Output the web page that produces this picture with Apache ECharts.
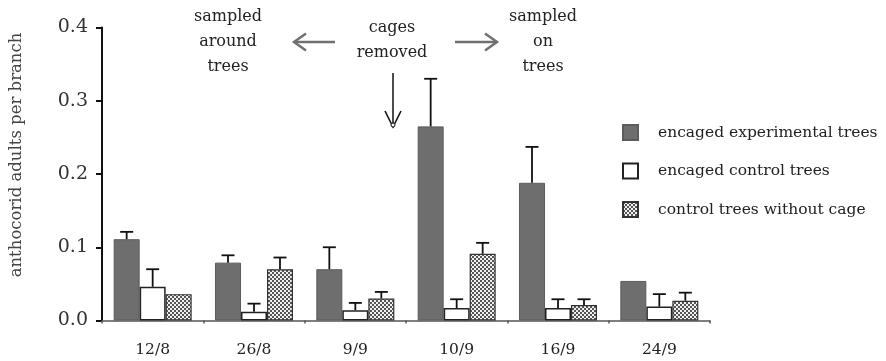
<!DOCTYPE html>
<html>
<head>
<meta charset="utf-8">
<script src="https://cdn.jsdelivr.net/npm/echarts@6/dist/echarts.min.js"></script>
<style>html,body{margin:0;padding:0;background:#fff}#c{width:886px;height:361px}</style>
</head>
<body>
<div id="c"></div>
<script>
// ---- data ----
const categories = ['12/8', '26/8', '9/9', '10/9', '16/9', '24/9'];
const seriesNames = ['encaged experimental trees', 'encaged control trees', 'control trees without cage'];
const expVals    = [0.111, 0.079, 0.070, 0.265, 0.188, 0.054];
const expErrTop  = [0.121, 0.089, 0.100, 0.330, 0.237, null];
const ctrlVals   = [0.046, 0.012, 0.014, 0.017, 0.017, 0.019];
const ctrlErrTop = [0.070, 0.023, 0.024, 0.029, 0.029, 0.036];
const nocVals    = [0.036, 0.070, 0.030, 0.091, 0.021, 0.027];
const nocErrTop  = [null, 0.086, 0.039, 0.106, 0.029, 0.038];
const yTicks = [0, 0.1, 0.2, 0.3, 0.4];

// ---- styles ----
const FONT = '"DejaVu Serif", "Liberation Serif", serif';
const BAR_W = 26;

function makePattern() {
  const cv = document.createElement('canvas');
  cv.width = 4; cv.height = 4;
  const g = cv.getContext('2d');
  g.fillStyle = '#f0f0f0'; g.fillRect(0, 0, 4, 4);
  g.fillStyle = '#555555';
  g.fillRect(0, 0, 2, 2); g.fillRect(2, 2, 2, 2);
  return cv;
}
const stipple = { image: makePattern(), repeat: 'repeat' };

function errData(vals, tops, slot) {
  const out = [];
  vals.forEach((v, i) => { if (tops[i] != null) out.push([i, v, tops[i], slot]); });
  return out;
}

function renderErr(params, api) {
  const i = api.value(0);
  const base = api.coord([i, api.value(1)]);
  const top = api.coord([i, api.value(2)]);
  const x = base[0] + api.value(3) * BAR_W;
  const st = { stroke: '#111', lineWidth: 1.8 };
  return {
    type: 'group',
    children: [
      { type: 'line', shape: { x1: x, y1: base[1], x2: x, y2: top[1] }, style: st },
      { type: 'line', shape: { x1: x - 6.5, y1: top[1], x2: x + 6.5, y2: top[1] }, style: st }
    ]
  };
}

const chart = echarts.init(document.getElementById('c'), null, { renderer: 'canvas' });

const lineSt = { stroke: '#707070', lineWidth: 2.5, fill: null };
chart.setOption({
  animation: false,
  backgroundColor: '#fff',
  grid: { left: 102, right: 176, top: 27.5, bottom: 40.5, containLabel: false },
  legend: {
    orient: 'vertical',
    left: 617, top: 119,
    itemWidth: 15, itemHeight: 15, itemGap: 21.5,
    icon: 'rect',
    data: seriesNames,
    textStyle: { fontFamily: FONT, fontSize: 15.5, color: '#222', padding: [0, 0, 0, 15], lineHeight: 16 }
  },
  xAxis: {
    type: 'category',
    data: categories,
    axisLine: { lineStyle: { color: '#555', width: 1.5 } },
    axisTick: { show: true, length: 3, lineStyle: { color: '#555', width: 1.5 } },
    axisLabel: { fontFamily: FONT, fontSize: 15.5, color: '#222', margin: 21 }
  },
  yAxis: {
    type: 'value',
    min: yTicks[0], max: yTicks[yTicks.length - 1], interval: 0.1,
    splitLine: { show: false },
    axisLine: { show: true, lineStyle: { color: '#111', width: 2 } },
    axisTick: { show: true, length: 6, lineStyle: { color: '#111', width: 2 } },
    axisLabel: { fontFamily: FONT, fontSize: 19, color: '#333', margin: 14, formatter: v => v.toFixed(1) }
  },
  series: [
    { name: seriesNames[0], type: 'bar', data: expVals, barWidth: BAR_W, barGap: '0%',
      itemStyle: { color: '#6e6e6e', borderColor: '#5c5c5c', borderWidth: 1 } },
    { name: seriesNames[1], type: 'bar', data: ctrlVals, barWidth: BAR_W, barGap: '0%',
      itemStyle: { color: '#ffffff', borderColor: '#222', borderWidth: 1.5 } },
    { name: seriesNames[2], type: 'bar', data: nocVals, barWidth: BAR_W, barGap: '0%',
      itemStyle: { color: stipple, borderColor: '#333', borderWidth: 1.2 } },
    { type: 'custom', renderItem: renderErr, data: errData(expVals, expErrTop, -1), encode: { x: 0, y: 2 }, z: 5 },
    { type: 'custom', renderItem: renderErr, data: errData(ctrlVals, ctrlErrTop, 0), encode: { x: 0, y: 2 }, z: 5 },
    { type: 'custom', renderItem: renderErr, data: errData(nocVals, nocErrTop, 1), encode: { x: 0, y: 2 }, z: 5 }
  ],
  graphic: [
    { type: 'text', x: 17, y: 155, rotation: Math.PI / 2,
      style: { text: 'anthocorid adults per branch', font: '16.5px ' + FONT, fill: '#444', textAlign: 'center', textVerticalAlign: 'middle' } },
    { type: 'text', x: 228, y: 42,
      style: { text: 'sampled\naround\ntrees', font: '16px ' + FONT, fill: '#222', textAlign: 'center', textVerticalAlign: 'middle', lineHeight: 25 } },
    { type: 'text', x: 392, y: 40.5,
      style: { text: 'cages\nremoved', font: '16px ' + FONT, fill: '#222', textAlign: 'center', textVerticalAlign: 'middle', lineHeight: 25 } },
    { type: 'text', x: 543, y: 42,
      style: { text: 'sampled\non\ntrees', font: '16px ' + FONT, fill: '#222', textAlign: 'center', textVerticalAlign: 'middle', lineHeight: 25 } },
    // left arrow
    { type: 'polyline', shape: { points: [[335, 42], [294, 42]] }, style: lineSt },
    { type: 'polyline', shape: { points: [[306, 33.5], [294, 42], [306, 50.5]] }, style: lineSt },
    // right arrow
    { type: 'polyline', shape: { points: [[455, 42], [497, 42]] }, style: lineSt },
    { type: 'polyline', shape: { points: [[485, 33.5], [497, 42], [485, 50.5]] }, style: lineSt },
    // down arrow
    { type: 'polyline', shape: { points: [[393, 73], [393, 126]] }, style: { stroke: '#111', lineWidth: 1.5, fill: null } },
    { type: 'polyline', shape: { points: [[385, 111], [393, 127], [401, 111]] }, style: { stroke: '#111', lineWidth: 1.6, fill: null } },
    { type: 'circle', shape: { cx: 393, cy: 125, r: 2 }, style: { stroke: '#111', lineWidth: 1, fill: '#fff' } }
  ]
});
</script>
</body>
</html>
